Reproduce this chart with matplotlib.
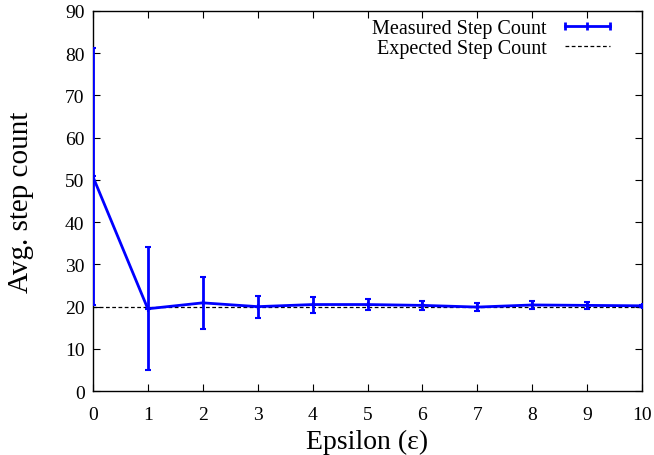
import matplotlib.pyplot as plt
from matplotlib.lines import Line2D
import numpy as np

plt.rcParams['font.family'] = ['Liberation Serif', 'DejaVu Serif']

epsilon = [0, 1, 2, 3, 4, 5, 6, 7, 8, 9, 10]
avg_steps = [50.8, 19.5, 20.9, 20.0, 20.5, 20.5, 20.3, 19.9, 20.4, 20.3, 20.2]
step_err = [30.3, 14.5, 6.2, 2.6, 1.9, 1.4, 1.0, 1.0, 1.0, 0.9, 0.3]
expected = 20

fig = plt.figure(figsize=(6.54, 4.56), dpi=100)
ax = fig.add_axes([0.142, 0.140, 0.840, 0.834])

ax.errorbar(epsilon, avg_steps, yerr=step_err, color='#0000ff', lw=2,
            elinewidth=2, capsize=2.5, capthick=2, marker='+', ms=4, mew=1.5,
            zorder=3)
ax.axhline(expected, color='black', lw=0.9, ls=(0, (3, 2)), zorder=2)

ax.set_xlim(0, 10)
ax.set_ylim(0, 90)
ax.set_xticks(range(0, 11))
ax.set_yticks(range(0, 91, 10))
ax.tick_params(direction='in', top=True, right=True, labelsize=14, length=5, width=0.8)
ax.tick_params(axis='x', pad=11)
ax.tick_params(axis='y', pad=6)
for s in ax.spines.values():
    s.set_linewidth(1.0)

ax.set_xlabel('Epsilon (ε)', fontsize=20, labelpad=4)
ax.set_ylabel('Avg. step count', fontsize=21, labelpad=22)

h_meas = Line2D([0], [0], color='#0000ff', lw=2, marker='|', ms=6, mew=2)
h_exp = Line2D([0], [0], color='black', lw=0.9, ls=(0, (3, 2)))
ax.legend([h_meas, h_exp], ['Measured Step Count', 'Expected Step Count'],
          loc='upper right', bbox_to_anchor=(1 - 18 / 549, 1.0),
          frameon=False, markerfirst=False, fontsize=14.5, numpoints=3,
          handlelength=2.85, handletextpad=0.6, labelspacing=0.05,
          borderaxespad=0.0)

fig.savefig('out.png', dpi=100)
